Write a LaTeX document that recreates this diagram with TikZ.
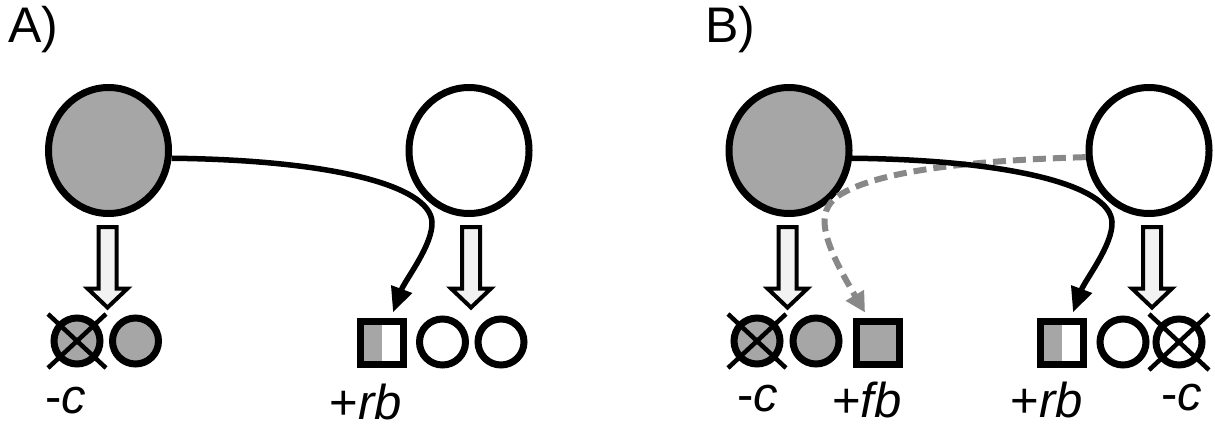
\documentclass[tikz,border=0pt]{standalone}
\usepackage{fontspec}
\setmainfont{Liberation Sans}
\usetikzlibrary{arrows.meta,shapes.geometric,calc}
\definecolor{fillgray}{RGB}{166,166,166}
\definecolor{lightfill}{RGB}{242,242,242}
\definecolor{dashgray}{RGB}{136,136,136}
\tikzset{
  big/.style={ellipse, draw, line width=7pt, minimum width=120pt, minimum height=126pt, inner sep=0pt},
  small/.style={circle, draw, line width=7pt, minimum size=46pt, inner sep=0pt},
  sq/.style={rectangle, draw, line width=7pt, minimum size=43pt, inner sep=0pt},
  halfsq/.style={sq, path picture={\fill[fillgray] (path picture bounding box.south west) rectangle (path picture bounding box.north);}},
  lbl/.style={font=\fontsize{49}{55}\selectfont, anchor=base, inner sep=0pt},
  panel/.style={font=\fontsize{50}{56}\selectfont, anchor=base west, inner sep=0pt},
  conn/.style={line width=5.5pt, -{Triangle[length=25pt,width=21pt]}},
  dconn/.style={line width=6pt, draw=dashgray, dash pattern=on 13pt off 7pt, -{Triangle[length=20pt,width=20pt,fill=dashgray]}},
  crossline/.style={line width=4.5pt},
  hollow/.style={draw, line width=4pt, fill=lightfill, line join=miter},
  hollowarrow/.pic={\draw[hollow] (-9,0) -- (-9,61.5) -- (-20,61.5) -- (0,80.5) -- (20,61.5) -- (9,61.5) -- (9,0) -- cycle;}
}
\begin{document}
\begin{tikzpicture}[x=1pt,y=-1pt]
\useasboundingbox (0,0) rectangle (1215,428);
% panel labels
\node[panel] (lA) at (8,43) {A)};
\node[panel] (lB) at (705,43) {B)};
% big cells
\node[big, fill=fillgray] (gA) at (108.5,150.5) {};
\node[big, fill=white] (wA) at (469,150.5) {};
\node[big, fill=fillgray] (gB) at (789,150.5) {};
\node[big, fill=white] (wB) at (1149,150.5) {};
% hollow arrows
\pic at (107.5,227) {hollowarrow};
\pic at (471,227) {hollowarrow};
\pic at (787.5,227) {hollowarrow};
\pic at (1152,227) {hollowarrow};
% small items, panel A
\node[small, fill=fillgray] (a1) at (77,341) {};
\node[small, fill=fillgray] (a2) at (135.5,341) {};
\node[halfsq] (a3) at (382,342.5) {};
\node[small, fill=white] (a4) at (442.5,342) {};
\node[small, fill=white] (a5) at (501,342) {};
% small items, panel B
\node[small, fill=fillgray] (b1) at (757,341) {};
\node[small, fill=fillgray] (b2) at (816,341) {};
\node[sq, fill=fillgray] (b3) at (878,342.5) {};
\node[halfsq] (b4) at (1062,342.5) {};
\node[small, fill=white] (b5) at (1123,342) {};
\node[small, fill=white] (b6) at (1179,342) {};
% crosses
\draw[crossline] ($(a1)+(-29,-27)$) -- ($(a1)+(29,27)$);
\draw[crossline] ($(a1)+(-29,27)$) -- ($(a1)+(29,-27)$);
\draw[crossline] ($(b1)+(-29,-27)$) -- ($(b1)+(29,27)$);
\draw[crossline] ($(b1)+(-29,27)$) -- ($(b1)+(29,-27)$);
\draw[crossline] ($(b6)+(-30,-28)$) -- ($(b6)+(30,28)$);
\draw[crossline] ($(b6)+(-30,28)$) -- ($(b6)+(30,-28)$);
% labels
\node[lbl] (tA1) at (65.5,413) {-\textit{c}};
\node[lbl] (tA2) at (366,419) {+\textit{rb}};
\node[lbl] (tB1) at (757.5,411) {-\textit{c}};
\node[lbl] (tB2) at (867,417) {+\textit{fb}};
\node[lbl] (tB3) at (1047,417) {+\textit{rb}};
\node[lbl] (tB4) at (1182,410) {-\textit{c}};
% connectors
\draw[conn] (gA.-7) .. controls (330,160) and (430,185) .. (432,222) .. controls (433,245) and (405,280) .. ($(a3.north)+(11,-5)$);
\draw[dconn] (wB.186) .. controls (990,160) and (880,168) .. (838,196) .. controls (815,212) and (822,240) .. ($(b3.north)+(-13,-5)$);
\draw[conn] (gB.-7) .. controls (1010,160) and (1110,185) .. (1112,222) .. controls (1113,245) and (1085,280) .. ($(b4.north)+(11,-5)$);
\end{tikzpicture}
\end{document}
